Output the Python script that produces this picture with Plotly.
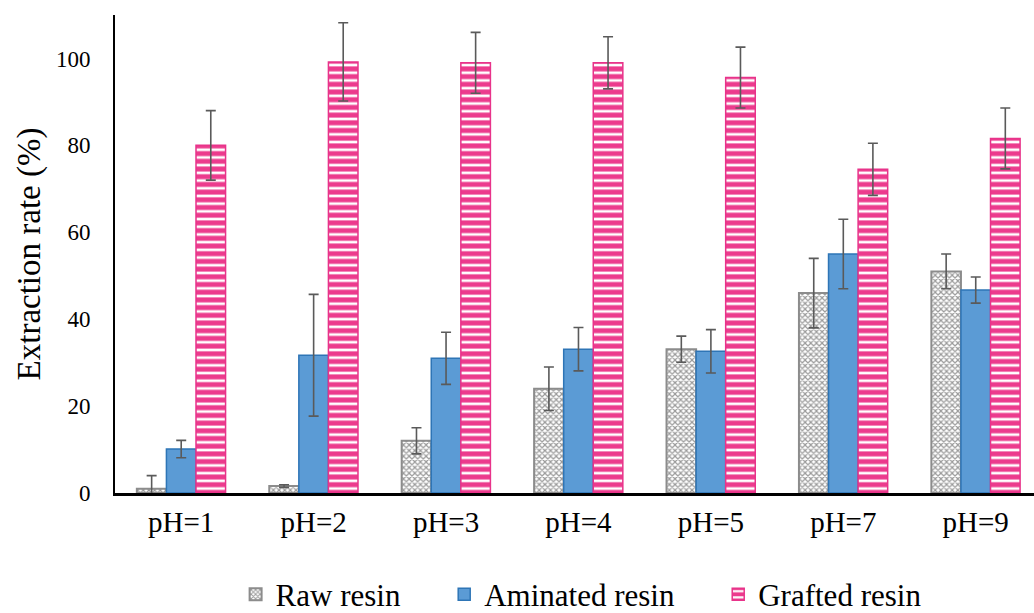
import plotly.graph_objects as go

categories = ["pH=1", "pH=2", "pH=3", "pH=4", "pH=5", "pH=7", "pH=9"]
raw_vals = [1.0, 1.6, 12.0, 24.0, 33.1, 46.0, 51.0]
raw_err = [3.0, 0.3, 3.0, 5.0, 3.0, 8.0, 4.0]
amin_vals = [10.1, 31.7, 31.0, 33.1, 32.6, 55.0, 46.7]
amin_err = [2.0, 14.0, 6.0, 5.0, 5.0, 8.0, 3.0]
graft_vals = [80.0, 99.2, 99.0, 99.0, 95.6, 74.5, 81.6]
graft_err = [8.0, 9.0, 7.0, 6.0, 7.0, 6.0, 7.0]
series_names = ["Raw resin", "Aminated resin", "Grafted resin"]

FONT = "Liberation Serif, Times New Roman, serif"
err_style = dict(type="data", visible=True, color="#5a5a5a", thickness=1.6, width=5)
GAP = "\u00a0" * 5

fig = go.Figure()
fig.add_trace(go.Bar(
    name=series_names[0] + GAP, x=categories, y=raw_vals,
    error_y=dict(array=raw_err, **err_style),
    marker=dict(color="#ffffff", line=dict(color="#8c8c8c", width=2),
                pattern=dict(shape="x", fgcolor="#9a9a9a", bgcolor="#ffffff",
                             size=4, solidity=0.5, fgopacity=1, fillmode="overlay")),
))
fig.add_trace(go.Bar(
    name=series_names[1] + GAP, x=categories, y=amin_vals,
    error_y=dict(array=amin_err, **err_style),
    marker=dict(color="#5B9BD5", line=dict(color="#2E75B6", width=1.5)),
))
fig.add_trace(go.Bar(
    name=series_names[2], x=categories, y=graft_vals,
    error_y=dict(array=graft_err, **err_style),
    marker=dict(color="#EC3B8D", line=dict(color="#E8338A", width=1.5),
                pattern=dict(shape="-", fgcolor="#ffffff", bgcolor="#EC3B8D",
                             size=7.7, solidity=0.35, fgopacity=1, fillmode="overlay")),
))

fig.update_layout(
    width=1034, height=613,
    paper_bgcolor="white", plot_bgcolor="white",
    barmode="group", bargap=0.33, bargroupgap=0,
    margin=dict(l=115, r=0, t=15, b=120, autoexpand=False),
    font=dict(family=FONT, color="#000000"),
    legend=dict(orientation="h", xref="container", x=0.562, xanchor="center",
                yref="container", y=0.03, yanchor="middle",
                font=dict(family=FONT, size=31), itemwidth=30, traceorder="normal"),
    xaxis=dict(range=[-0.5, 6.44], showline=True, linecolor="#000000", linewidth=2.5,
               ticks="", tickfont=dict(family=FONT, size=29), ticklabelstandoff=1,
               showgrid=False, automargin=False),
    yaxis=dict(range=[0, 110], tickvals=[0, 20, 40, 60, 80, 100], showline=True,
               linecolor="#000000", linewidth=2, ticks="", showgrid=False, zeroline=False,
               tickfont=dict(family=FONT, size=23), ticklabelstandoff=18, automargin=False,
               title=dict(text="Extraction rate (%)", font=dict(family=FONT, size=33),
                          standoff=5)),
)

fig.write_html("out.html", config={"displayModeBar": False},
               post_script="document.body.style.margin='0';")
